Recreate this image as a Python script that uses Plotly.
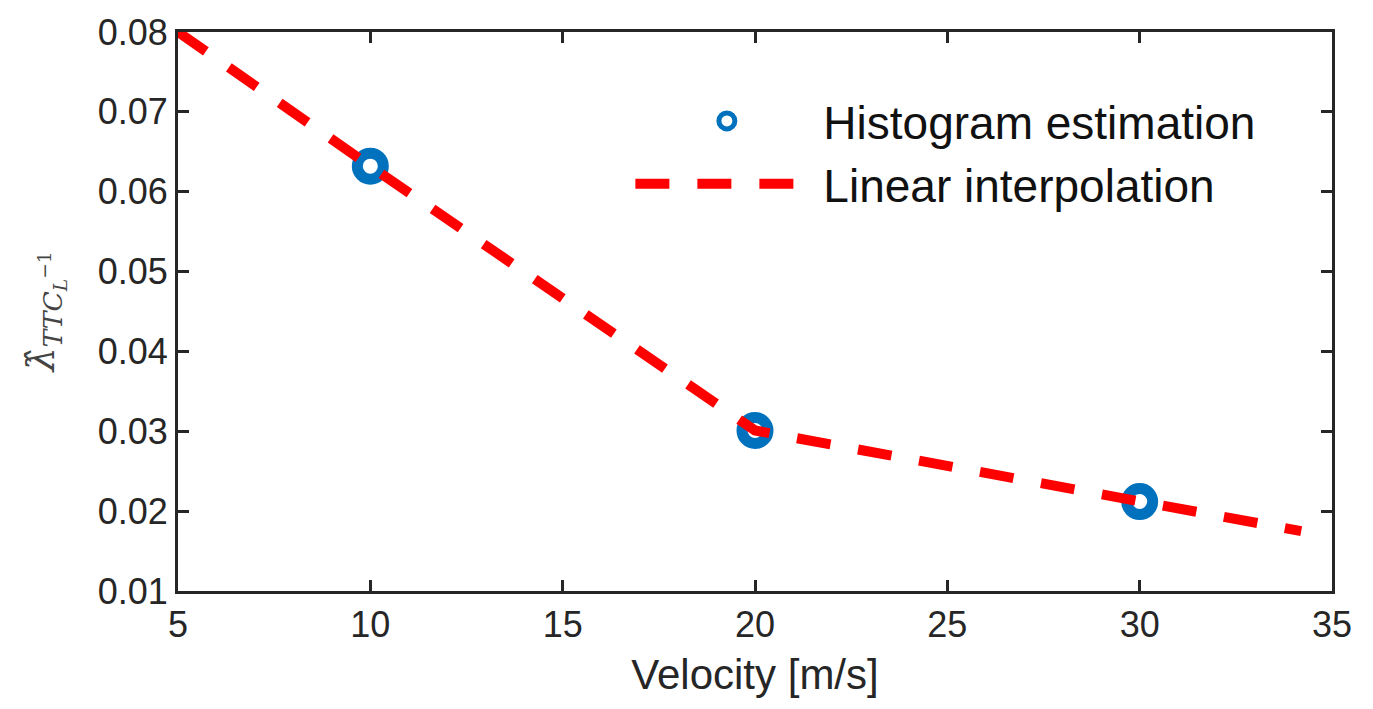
import plotly.graph_objects as go

# Data
hist_velocity = [10, 20, 30]
hist_lambda = [0.0632, 0.0301, 0.0212]

interp_velocity = [5, 10, 20, 30, 34.2]
interp_lambda = [0.0800, 0.0632, 0.0301, 0.0212, 0.0175]

x_ticks = [5, 10, 15, 20, 25, 30, 35]
y_ticks = [0.01, 0.02, 0.03, 0.04, 0.05, 0.06, 0.07, 0.08]
y_tick_text = ["0.01", "0.02", "0.03", "0.04", "0.05", "0.06", "0.07", "0.08"]

fig = go.Figure()
fig.add_trace(go.Scatter(
    x=hist_velocity, y=hist_lambda, mode="markers", name="Histogram estimation",
    marker=dict(symbol="circle-open", size=26, color="#0072BD",
                line=dict(width=11, color="#0072BD")),
    cliponaxis=False,
))
fig.add_trace(go.Scatter(
    x=interp_velocity, y=interp_lambda, mode="lines", name="Linear interpolation",
    line=dict(color="#FF0000", width=10, dash="34px,28px"),
    cliponaxis=False,
))

axis_common = dict(
    showline=True, linecolor="#262626", linewidth=3, mirror="ticks",
    ticks="inside", ticklen=11, tickwidth=2.5, tickcolor="#262626",
    showgrid=False, zeroline=False,
    tickfont=dict(family="Liberation Sans, Arial", size=36, color="#262626"),
)

fig.update_layout(
    width=1373, height=709,
    margin=dict(l=178, r=41, t=24, b=118),
    paper_bgcolor="white", plot_bgcolor="white",
    xaxis=dict(range=[5, 35], tickvals=x_ticks, ticktext=[str(v) for v in x_ticks],
               title=dict(text="Velocity [m/s]", standoff=16,
                          font=dict(family="Liberation Sans, Arial", size=42, color="#262626")),
               **axis_common),
    yaxis=dict(range=[0.01, 0.08], tickvals=y_ticks, ticktext=y_tick_text,
               title=dict(text="<i>λ̂</i><sub><i>TTC</i><sub><i>L</i></sub><sup>−1</sup></sub>",
                          standoff=32,
                          font=dict(family="DejaVu Serif, Liberation Serif", size=38, color="#444444")),
               **axis_common),
    showlegend=True,
    legend=dict(x=0.392, y=0.906, xanchor="left", yanchor="top",
                bgcolor="rgba(0,0,0,0)", borderwidth=0,
                itemwidth=183, tracegroupgap=0,
                font=dict(family="Liberation Sans, Arial", size=46, color="#111111")),
)

fig.write_html("out.html")
